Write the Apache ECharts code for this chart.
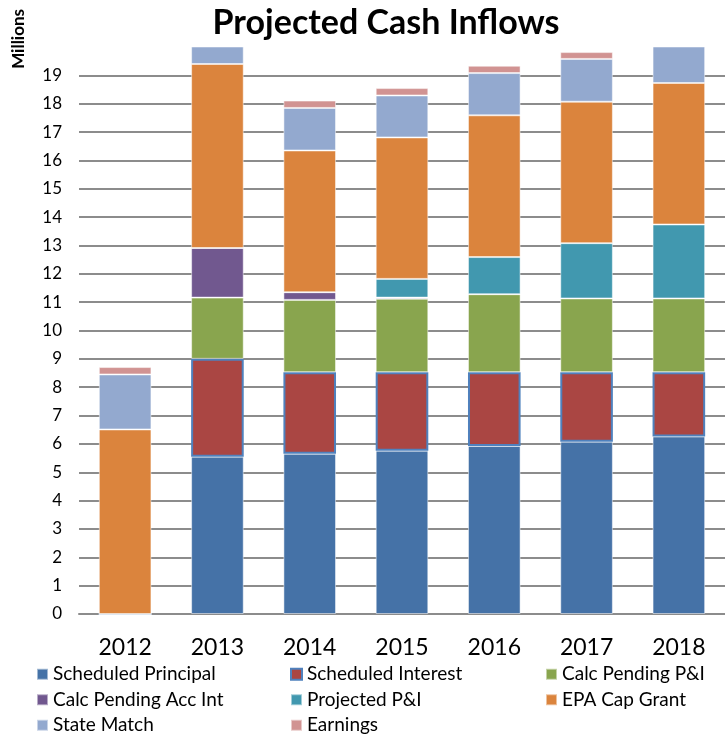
<!DOCTYPE html>
<html>
<head>
<meta charset="utf-8">
<script src="https://cdn.jsdelivr.net/npm/echarts@6/dist/echarts.min.js"></script>
<style>
  html, body { margin: 0; padding: 0; background: #fff; }
  #chart { width: 725px; height: 737px; }
</style>
</head>
<body>
<div id="chart"></div>
<script>
const years = ['2012', '2013', '2014', '2015', '2016', '2017', '2018'];

// values in millions
const schedPrincipal = [0, 5.55, 5.65, 5.76, 5.93, 6.08, 6.26];
const schedInterest = [0, 3.45, 2.88, 2.77, 2.6, 2.45, 2.27];
const calcPendingPI = [0, 2.16, 2.55, 2.59, 2.75, 2.6, 2.6];
const calcPendingAcc = [0, 1.75, 0.27, 0.04, 0, 0, 0];
const projectedPI = [0, 0, 0, 0.66, 1.31, 1.95, 2.61];
const epaCapGrant = [6.51, 6.49, 5.0, 4.99, 5.0, 4.99, 4.99];
const stateMatch = [1.94, 1.5, 1.5, 1.48, 1.49, 1.51, 1.5];
const earnings = [0.26, 0.25, 0.26, 0.26, 0.26, 0.24, 0.25];

const font = 'Lato';

const seriesDefs = [
  { name: 'Scheduled Principal', data: schedPrincipal, color: '#4572A7' },
  { name: 'Scheduled Interest', data: schedInterest, color: '#AA4643', border: '#4F81BD', bw: 2 },
  { name: 'Calc Pending P&I', data: calcPendingPI, color: '#89A54E' },
  { name: 'Calc Pending Acc Int', data: calcPendingAcc, color: '#71588F' },
  { name: 'Projected P&I', data: projectedPI, color: '#4198AF' },
  { name: 'EPA Cap Grant', data: epaCapGrant, color: '#DB843D' },
  { name: 'State Match', data: stateMatch, color: '#93A9CF' },
  { name: 'Earnings', data: earnings, color: '#D19392' }
];

const legendBase = {
  orient: 'vertical',
  top: 664,
  padding: 0,
  icon: 'rect',
  itemWidth: 11,
  itemHeight: 11,
  itemGap: 5,
  textStyle: { fontFamily: font, fontSize: 19, color: '#000', lineHeight: 20.5 }
};

const chart = echarts.init(document.getElementById('chart'));
chart.setOption({
  animation: false,
  title: {
    text: 'Projected Cash Inflows',
    left: 381,
    textAlign: 'center',
    top: 1,
    textStyle: { fontFamily: font, fontSize: 34, fontWeight: 'bold', color: '#000' }
  },
  graphic: [{
    type: 'text',
    left: 10,
    top: 9,
    rotation: Math.PI / 2,
    style: { text: 'Millions', fontFamily: font, fontSize: 17, fontWeight: 'bold', fill: '#000' }
  }],
  legend: [
    Object.assign({}, legendBase, { left: 36, data: ['Scheduled Principal', 'Calc Pending Acc Int', 'State Match'] }),
    Object.assign({}, legendBase, { left: 290, data: ['Scheduled Interest', 'Projected P&I', 'Earnings'] }),
    Object.assign({}, legendBase, { left: 545, data: ['Calc Pending P&I', 'EPA Cap Grant'] })
  ],
  grid: { left: 79, right: 0, top: 47, bottom: 123 },
  xAxis: {
    type: 'category',
    data: years,
    axisLine: { lineStyle: { color: '#8c8c8c', width: 2 } },
    axisTick: { show: false },
    axisLabel: { fontFamily: font, fontSize: 23, color: '#000', margin: 22 }
  },
  yAxis: {
    type: 'value',
    min: 0,
    max: 20,
    interval: 1,
    axisLine: { show: false },
    axisTick: { show: false },
    axisLabel: { fontFamily: font, fontSize: 17, color: '#000', margin: 17, showMaxLabel: false },
    splitLine: { showMaxLine: false, lineStyle: { color: '#8c8c8c', width: 2 } }
  },
  series: seriesDefs.map(s => ({
    name: s.name,
    type: 'bar',
    stack: 'all',
    data: s.data,
    barCategoryGap: '43%',
    clip: true,
    itemStyle: {
      color: s.color,
      borderColor: s.border || 'rgba(255,255,255,0.5)',
      borderWidth: s.bw || 1
    }
  }))
});
</script>
</body>
</html>
